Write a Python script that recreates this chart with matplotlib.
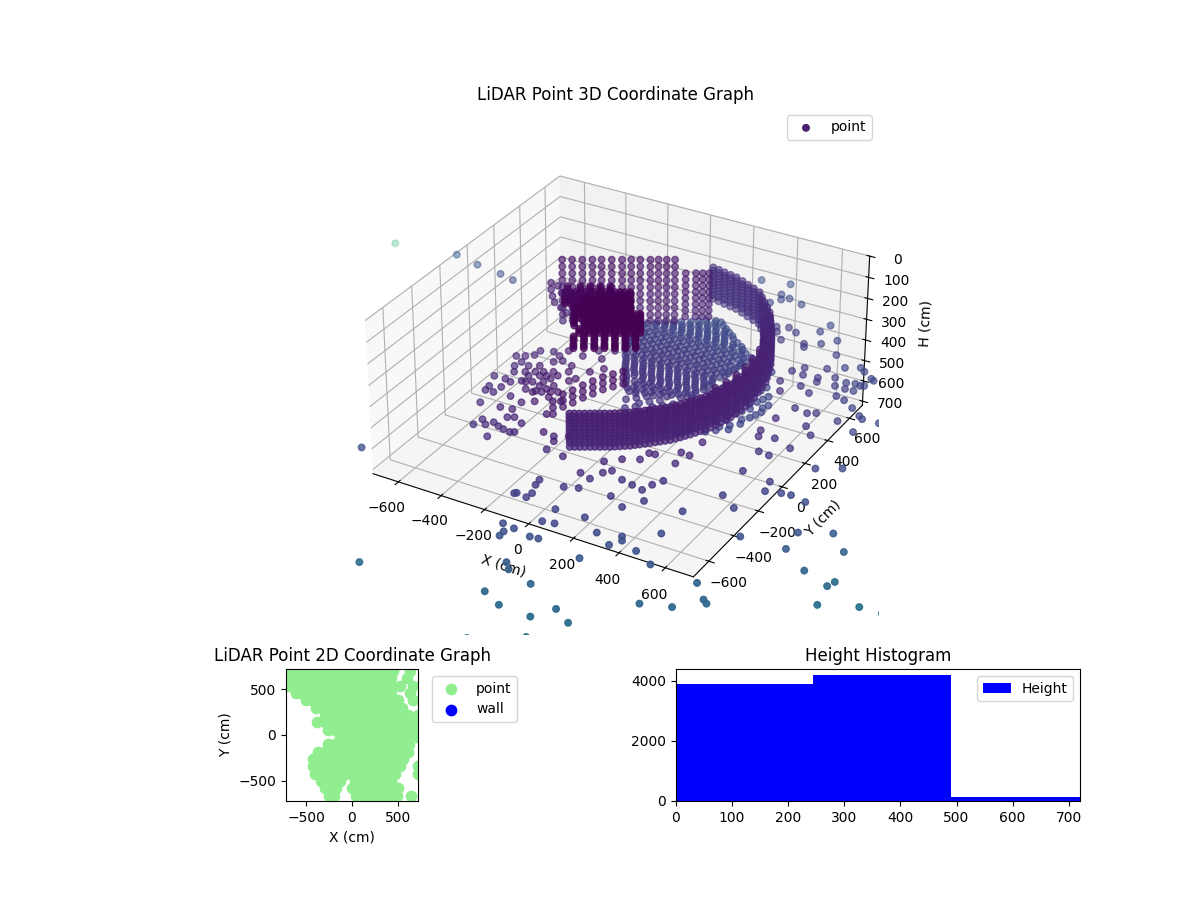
import numpy as np
import matplotlib
matplotlib.use('Agg')
import matplotlib.pyplot as plt

# scattered floor returns
floor_level = 480
scatter_x = [-650,-209,282,370,399,504,558,638,381,556,251,282,137,135,104,157,236,270,222,269,
             222,345,435,515,528,542,620,466,708,796,906,643,638,429,479,355,222,169,89,85,
             31,38,70,64,173,225,246,269,334,385,435,450,473,452,209,261,321,329,353,715,
             792,700,839,824,898,936,1004,903,1085,1074,1189,1276,1206,1333,1321,1343,1477,1563,910,980,
             1001,1353,931,1020,938,996,687,734,781,806,760,696,621,635,471,433,468,
             54,178,186,205,232,299,177,485,344,388,471,296,317,362,459,520,566,471,615,517,
             550,570,632,691,746,773,821,836,632,643,692,720,748,783,807,821,765,801,602,655,
             760,801,512,548,855,660,719,750,849,906,926,630,
             -1197,-1070,-939,-864]
scatter_y = [-883,-1538,-1468,-1514,-1347,-1520,-1435,-1486,-1740,-1632,-1273,-1308,-1138,-1107,-1062,-1071,-1088,-1084,-978,-968,
             -884,-877,-943,-991,-919,-943,-976,-1119,-1026,-1260,-1221,-830,-660,-747,-670,-703,-715,-736,-833,-868,
             -867,-860,-777,-739,-619,-637,-576,-547,-583,-595,-607,-557,-512,-381,-504,-456,-423,-366,-362,-488,
             -545,-299,-384,-316,-366,-360,-376,-703,-692,-574,-515,-605,-784,-794,-831,-953,-891,-886,-1045,-1125,
             -1142,-1203,-147,-95,165,275,-144,-151,-64,61,113,-28,-2,-47,-303,-300,-194,
             1091,1119,1019,979,1004,983,932,882,780,757,814,762,725,673,690,725,781,666,673,469,
             516,462,554,597,629,608,571,561,471,440,506,448,492,503,498,506,446,449,379,346,
             379,365,374,303,327,215,203,221,209,286,270,108,
             637,604,582,561]

# far outlier behind the room (the pale green dot)
far_x = [-2146]
far_y = [1528]
far_h = [1100]

# clutter left of the sensor
left_x = [-508,-476,-448,-445,-394,-356,-345,-472,-464,-423,-384,-352,-324,-272,-274,-195,-182,-239,-500,-449,
          -448,-409,-374,-318,-280,-258,-205,-184,-147,-471,-475,-429,-419,-384,-342,-304,-252,-220,-336,-294,
          -264,-213,-359,-435,-437,-349,-300,-260,-296,-255,-224,-163,-166,-370,-360,-329,-310,-278,-250,-217,
          -201,-212,-275,-284,-103,-52,-2,-26,54,-33,-381,-345,-292,-301,-300,-238,-269,-366,-342,-311]
left_y = [16,34,60,101,122,104,158,-55,-14,-27,-4,51,76,60,151,169,253,220,-164,-162,
          -97,-75,-54,-59,-36,13,-21,55,104,-276,-242,-225,-172,-143,-128,-106,-113,-49,-190,-183,
          -148,-146,-267,-274,-368,-359,-349,-397,-287,-254,-198,-314,-202,-523,-473,-500,-470,-486,-495,-501,
          -492,-422,-572,-411,-435,-443,-414,-539,-551,-474,-95,-38,-71,-142,-196,-160,-178,-142,-72,-18]

# curved room wall, one entry per vertical scan column
ring_x = [82,115,149,182,215,246,277,305,334,362,390,414,437,459,480,496,511,518,525,515,504,480,455,415,374,317,260,190,119,56,-6,
          448,470,488,504,515,522,520,510,492,468,435,395,346,288,225,155,88,25,
          470,485,492,495,490,480,460,430,390,
          98,132,165,198,230,261,291,320,348,376,402,425]
ring_y = [-546,-527,-507,-488,-469,-447,-424,-397,-369,-340,-311,-274,-237,-195,-152,-99,-46,23,92,176,261,330,399,468,538,603,668,701,734,748,763,
          -216,-174,-126,-73,-12,58,134,218,296,365,434,503,571,636,685,718,741,756,
          -100,-40,30,100,170,250,320,390,460,
          -536,-517,-497,-478,-458,-435,-410,-383,-354,-325,-292,-255]
ring_levels = [275,290,305,320,335,350,365,380,395,410,430]

# straight back wall
back_x = [-424,-389,-353,-318,-286,-250,-214,-182,-150,-114,-86,-57,-28]
back_y = [245,265,285,306,325,345,366,385,403,423,440,456,473]
back_levels = [105,138,171,204,237,270,303,336,370,400]

mid_x = [10,46,70,93]
mid_y = [495,516,530,543]
mid_levels = [170,200,230,260,290,320,350,380]

corner_x = [-464,-464,-460,-452,-430,-410,-385,-440,-425,-405,-385]
corner_y = [222,222,225,228,240,250,262,235,240,250,262]
corner_h = [216,248,281,310,335,360,385,230,262,295,340]

# dark mass close to the sensor
near_x = [-309,-275,-240,-205,-171,-136,-101,-279,-245,-210,-175,-141,-106,-71,-215,-180,-145,-111,-76,-41,
          -185,-150,-115,-81,-46,-11,23,-120,-85,-51,-16,19,53,-90,-55,-21,14,49,83,
          -95,-60,-25,9,44,79,113,-65,-30,5,39,74,109,143,
          -292,-258,-223,-188,-154,-119,-84,-262,-228,-193,-158,-124,-89,-54,-198,-163,-128,-94,-59,-24,
          -168,-133,-98,-64,-29,6,40,-103,-68,-34,1,36,70,-73,-38,-4,31,66,100,
          -326,-282,-248,-213,-178,-155,-107]
near_y = [76,96,116,136,156,176,196,24,44,64,84,104,124,144,-8,12,32,52,72,92,
          -60,-40,-20,0,20,40,60,-92,-72,-52,-32,-12,8,-144,-124,-104,-84,-64,-44,
          -216,-196,-176,-156,-136,-116,-96,-268,-248,-228,-208,-188,-168,-148,
          86,106,126,146,166,186,206,34,54,74,94,114,134,154,2,22,42,62,82,102,
          -50,-30,-10,10,30,50,70,-82,-62,-42,-22,-2,18,-134,-114,-94,-74,-54,-34,
          124,149,169,189,209,-112,-154]
near_levels = [145,155,165]

arm_x = [-125,-119,-102,-87,-69,-51,-28,-4]
arm_y = [-328,-262,-216,-163,-116,-68,-28,11]
arm_levels = [400,430,460]

# floor seen through the room, row by row
floor_tint = 350
floor_rows_y = [0,40,80,120,160,200,240,280,320,360,400,440,480,520,560,600,640,680,
                -240,-180,-120,-60,0,60,120,180,240,300,360,420,
                20,60,100,140,180,220,260,300,340,380,420,460,500,540,580,620,660,
                -210,-150,-90,-30,30,90,150,210,270]
floor_rows_x = [[30,60],
                [-10,30,70,110,150,180],
                [-30,10,50,90,130,170,210,250,270],
                [-55,-15,25,65,105,145,185,225,265],
                [-80,-40,0,40,80,120,160,200,240,280],
                [-100,-60,-20,20,60,100,140,180,220,260,285],
                [-125,-85,-45,-5,35,75,115,155,195,235,275],
                [-150,-110,-70,-30,10,50,90,130,170,210,250,290],
                [-160,-120,-80,-40,0,40,80,120,160,200,240,280,305],
                [-170,-130,-90,-50,-10,30,70,110,150,190,230,270,310],
                [-180,-140,-100,-60,-20,20,60,100,140,180,220,260,315],
                [-190,-150,-110,-70,-30,10,50,90,130,170,210,250,290,320],
                [-200,-160,-120,-80,-40,0,40,80,120,160,200,240,280,325],
                [-180,-140,-100,-60,-20,20,60,100,140,180,220,265],
                [-120,-80,-40,0,40,80,120,160,220],
                [-65,-25,15,55,95,135,175],
                [-5,35,75,125],
                [55,80],
                [140,200,260],
                [110,170,230,290,350],
                [80,140,200,260,320,380,440],
                [50,110,170,230,290,350,410,470,510],
                [110,170,230,290,350,410,470,530],
                [300,360,420,480,540],
                [330,390,450,510,560],
                [330,390,450,510,560],
                [350,410,470,530],
                [370,430,490],
                [380,440],
                [400,450],
                [10,50,90,130],
                [-20,30,70,110,150,190,230],
                [-40,30,70,110,150,190,230,260],
                [-65,-25,15,55,95,135,175,215,255],
                [-90,-50,-10,30,70,110,150,190,230,270],
                [-110,-70,-30,10,50,90,130,170,210,250,285],
                [-130,-90,-50,-10,30,70,110,150,190,230,270],
                [-150,-100,-60,-20,20,60,100,140,180,220,260,300],
                [-165,-100,-60,-20,20,60,100,140,180,220,260,300],
                [-170,-120,-80,-40,0,40,80,120,160,200,240,280,310],
                [-180,-130,-90,-50,-10,30,70,110,150,190,230,270,310],
                [-190,-140,-100,-60,-20,20,60,100,140,180,220,260,300],
                [-190,-140,-100,-60,-20,20,60,100,140,180,220,260,290],
                [-150,-110,-70,-30,10,50,90,130,170,210,250],
                [-90,-50,-10,30,70,110,150,190],
                [-30,10,50,90,130,150],
                [20,60,100],
                [170,230,290],
                [140,200,260,320,380],
                [110,170,230,290,350,410,470],
                [80,140,200,260,320,380,440,500],
                [280,340,400,460,520],
                [310,370,430,490,550],
                [310,370,430,490,550],
                [340,400,460,520],
                [360,420,480]]

# footprint for the 2D panel
top_rows_y = [700,620,540,460,380,300,220,140,60,-20,-100,-180,-260,-340,-420,-500,-580,-660]
top_rows_x = [[-720,-640,-560,-480,-400,-320,-240,-160,-80,0,80,160,240,320,400,450,631],
              [-720,-640,-560,-480,-400,-320,-240,-160,-80,0,80,160,240,320,400,430,595],
              [-700,-640,-560,-480,-400,-320,-240,-160,-80,0,80,160,240,320,420,668,522],
              [-611,-560,-480,-400,-320,-240,-160,-80,0,80,160,240,320,400,430,631],
              [-504,-440,-360,-280,-200,-120,-40,40,120,200,280,360,440,500,668],
              [-397,-320,-240,-160,-80,0,80,160,240,320,400,480,540],
              [-290,-210,-130,-50,30,110,190,270,350,430,510,610,720],
              [-383,-300,-220,-140,-60,20,100,180,260,340,420,500,580,660],
              [-263,-190,-110,-30,50,130,210,290,370,450,530,610,720],
              [-135,-60,20,100,180,260,340,420,500,580,660,720],
              [-263,-190,-110,-30,50,130,210,290,370,450,530,620],
              [-372,-300,-220,-140,-60,20,100,180,260,340,420,500,610],
              [-430,-350,-270,-190,-110,-30,50,130,210,290,370,450,560],
              [-425,-350,-270,-190,-110,-30,50,130,210,290,370,450,520,720],
              [-400,-320,-240,-160,-80,0,80,160,240,320,400,470,720],
              [-335,-260,-180,-130,30,110,190,270,350,430],
              [-300,-230,-170,0,80,160,240,320,400,500],
              [-250,-200,40,120,200,280,360,440,490,640]]

wall_x = []
wall_y = []

hist_edges = [0,245,490,735]
hist_counts = [3900,4200,130]


def columns(xs, ys, levels):
  return np.array([[x, y, h] for x, y in zip(xs, ys) for h in levels])


floor_pts = np.array([[x, y, floor_level] for y, row in zip(floor_rows_y, floor_rows_x) for x in row])

xyz = np.vstack([columns(ring_x, ring_y, ring_levels),
                 np.column_stack([scatter_x, scatter_y, np.full(len(scatter_x), floor_level)]),
                 np.column_stack([left_x, left_y, np.full(len(left_x), floor_level)]),
                 np.column_stack([far_x, far_y, far_h]),
                 np.column_stack([corner_x, corner_y, corner_h]),
                 columns(back_x, back_y, back_levels),
                 columns(mid_x, mid_y, mid_levels),
                 columns(near_x, near_y, near_levels),
                 columns(arm_x, arm_y, arm_levels),
                 floor_pts])

dist = np.sqrt((xyz**2).sum(axis=1))
dist[-len(floor_pts):] += floor_tint

fig = plt.figure(figsize=(12, 9), dpi=100)

ax1 = fig.add_axes([352/1200, 265/900, 527/1200, 527/900], projection='3d')
ax1.set_box_aspect((1, 1, 0.48))
ax1.scatter(xyz[:,0], xyz[:,1], xyz[:,2], c=dist, cmap='viridis', vmin=250, vmax=4200, s=22, label='point')
ax1.set_xlim(-720, 720)
ax1.set_ylim(-720, 720)
ax1.set_zlim(720, 0)
ax1.set_xlabel('X (cm)')
ax1.set_ylabel('Y (cm)')
ax1.set_zlabel('H (cm)')
ax1.set_title('LiDAR Point 3D Coordinate Graph')
ax1.legend(loc='upper right')

ax2 = fig.add_axes([150/1200, 99/900, 404/1200, 132/900])
top_x = [x for row in top_rows_x for x in row]
top_y = [y for y, row in zip(top_rows_y, top_rows_x) for x in row]
ax2.scatter(top_x, top_y, color='lightgreen', s=55, label='point')
ax2.scatter(wall_x, wall_y, color='blue', s=55, label='wall')
ax2.set_xlim(-720, 720)
ax2.set_ylim(-720, 720)
ax2.set_aspect('equal')
ax2.set_xlabel('X (cm)')
ax2.set_ylabel('Y (cm)')
ax2.set_title('LiDAR Point 2D Coordinate Graph')
ax2.legend(loc='upper left', bbox_to_anchor=(1.05, 1))

ax3 = fig.add_axes([676/1200, 99/900, 404/1200, 132/900])
ax3.hist(hist_edges[:-1], bins=hist_edges, weights=hist_counts, color='blue', label='Height')
ax3.set_xlim(0, 720)
ax3.set_ylim(0, 4400)
ax3.set_title('Height Histogram')
ax3.legend(loc='upper right')

fig.savefig('out.png')
